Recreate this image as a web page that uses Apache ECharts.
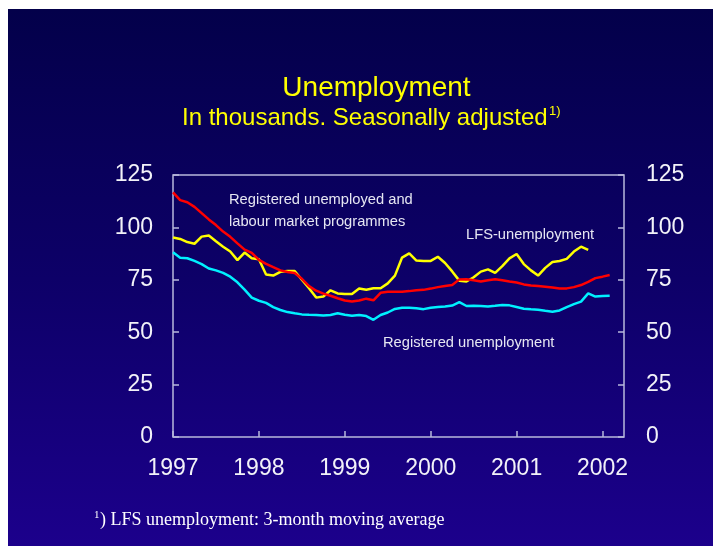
<!DOCTYPE html>
<html>
<head>
<meta charset="utf-8">
<script src="https://cdn.jsdelivr.net/npm/echarts@6/dist/echarts.min.js"></script>
<style>
  html, body { margin: 0; padding: 0; background: #ffffff; }
  #chart { width: 719px; height: 546px; }
</style>
</head>
<body>
<div id="chart"></div>
<script>
// Monthly observations, January 1997 onwards (thousands, seasonally adjusted)
var yearLabels = ['1997', '1998', '1999', '2000', '2001', '2002'];
var yTicks = [0, 25, 50, 75, 100, 125];

// Registered unemployed and labour market programmes
var registeredPlusProgrammes = [
  116.7, 113.0, 112.0, 109.8, 106.8, 103.8, 101.1, 98.0, 95.5, 92.4, 89.4, 87.8,
  84.5, 82.6, 81.0, 79.5, 78.7, 78.2, 75.5, 72.0, 69.8, 68.4, 67.4, 66.2,
  65.1, 64.7, 65.1, 66.0, 65.2, 68.8, 69.3, 69.3, 69.3, 69.6, 70.0, 70.2,
  70.8, 71.5, 72.0, 72.5, 75.2, 75.3, 74.8, 74.2, 74.8, 75.3, 74.8, 74.2,
  73.7, 72.8, 72.3, 72.0, 71.7, 71.3, 70.8, 70.9, 71.5, 72.5, 74.0, 75.8,
  76.5, 77.3
];

// LFS unemployment, 3-month moving average
var lfsUnemployment = [
  95.2, 94.5, 93.0, 92.2, 95.6, 96.1, 93.4, 90.8, 88.5, 84.4, 88.0, 85.3,
  84.8, 77.5, 77.0, 78.8, 79.2, 79.2, 75.0, 71.0, 66.5, 67.0, 70.0, 68.5,
  68.2, 68.2, 70.8, 70.3, 71.0, 71.0, 73.3, 77.0, 85.6, 87.6, 84.2, 84.0,
  84.0, 86.0, 83.0, 79.0, 74.6, 74.2, 76.2, 78.9, 80.0, 78.3, 81.5, 85.2,
  87.3, 82.5, 79.5, 77.0, 80.7, 83.5, 84.0, 85.0, 88.5, 90.8, 89.3
];

// Registered unemployment
var registeredUnemployment = [
  88.1, 85.5, 85.3, 84.0, 82.5, 80.4, 79.5, 78.3, 76.5, 73.8, 70.3, 66.5,
  65.0, 64.0, 62.0, 60.6, 59.6, 59.0, 58.5, 58.3, 58.2, 58.0, 58.2, 59.0,
  58.3, 57.8, 58.2, 57.7, 55.9, 58.2, 59.4, 61.1, 61.7, 61.7, 61.4, 61.0,
  61.7, 62.0, 62.3, 62.7, 64.3, 62.5, 62.6, 62.5, 62.3, 62.6, 63.0, 62.8,
  62.0, 61.2, 60.9, 60.7, 60.2, 59.8, 60.4, 62.0, 63.4, 64.6, 68.5, 67.0,
  67.3, 67.4
];

function toPairs(values) {
  return values.map(function (v, i) { return [i, v]; });
}

var frameColor = '#b8b8dc';
var labelColor = '#f2f2f8';
var sans = 'Liberation Sans, Arial, sans-serif';
var serif = 'Liberation Serif, Times New Roman, serif';

var chart = echarts.init(document.getElementById('chart'), null, { renderer: 'canvas' });

var option = {
  backgroundColor: '#ffffff',
  animation: false,
  grid: {
    left: 173, top: 175, right: 95, bottom: 109,
    show: true,
    borderColor: frameColor,
    borderWidth: 1.5,
    backgroundColor: 'transparent'
  },
  xAxis: {
    type: 'value',
    min: 0,
    max: 63,
    interval: 12,
    axisLine: { show: false },
    splitLine: { show: false },
    axisTick: { show: true, inside: true, length: 6, lineStyle: { color: frameColor, width: 1.5 } },
    axisLabel: {
      color: labelColor,
      fontFamily: sans,
      fontSize: 23,
      margin: 20,
      showMaxLabel: false,
      formatter: function (v) {
        if (v % 12 !== 0) return '';
        return yearLabels[v / 12] || '';
      }
    }
  },
  yAxis: [
    {
      type: 'value', position: 'left', min: yTicks[0], max: yTicks[yTicks.length - 1], interval: 25,
      axisLine: { show: false },
      splitLine: { show: false },
      axisTick: { show: true, inside: true, length: 6, lineStyle: { color: frameColor, width: 1.5 } },
      axisLabel: { color: labelColor, fontFamily: sans, fontSize: 23, margin: 20 }
    },
    {
      type: 'value', position: 'right', min: yTicks[0], max: yTicks[yTicks.length - 1], interval: 25,
      axisLine: { show: false },
      splitLine: { show: false },
      axisTick: { show: true, inside: true, length: 6, lineStyle: { color: frameColor, width: 1.5 } },
      axisLabel: { color: labelColor, fontFamily: sans, fontSize: 23, margin: 22 }
    }
  ],
  series: [
    {
      name: 'LFS-unemployment', type: 'line', data: toPairs(lfsUnemployment),
      showSymbol: false, symbol: 'none',
      lineStyle: { color: '#ffff00', width: 2.5 }, z: 3
    },
    {
      name: 'Registered unemployed and labour market programmes', type: 'line',
      data: toPairs(registeredPlusProgrammes),
      showSymbol: false, symbol: 'none',
      lineStyle: { color: '#ff0000', width: 2.5 }, z: 4
    },
    {
      name: 'Registered unemployment', type: 'line', data: toPairs(registeredUnemployment),
      showSymbol: false, symbol: 'none',
      lineStyle: { color: '#00f0ff', width: 2.5 }, z: 5
    }
  ],
  graphic: [
    {
      type: 'rect', z: -10, silent: true,
      shape: { x: 8, y: 9, width: 705, height: 540 },
      style: {
        fill: new echarts.graphic.LinearGradient(0, 0, 0, 1, [
          { offset: 0, color: '#03004a' },
          { offset: 0.5, color: '#0d0068' },
          { offset: 1, color: '#1c008c' }
        ])
      }
    },
    {
      type: 'text', x: 376.5, y: 88, z: 10,
      style: { text: 'Unemployment', fill: '#ffff00', font: '28px ' + sans, textAlign: 'center', textVerticalAlign: 'middle' }
    },
    {
      type: 'text', x: 182, y: 118.5, z: 10,
      style: { text: 'In thousands. Seasonally adjusted', fill: '#ffff00', font: '24px ' + sans, textAlign: 'left', textVerticalAlign: 'middle' }
    },
    {
      type: 'text', x: 549, y: 111, z: 10,
      style: { text: '1)', fill: '#ffff00', font: '13px ' + sans, textAlign: 'left', textVerticalAlign: 'middle' }
    },
    {
      type: 'text', x: 229, y: 199.5, z: 10,
      style: { text: 'Registered unemployed and', fill: '#e6e6f2', font: '14.7px ' + sans, textAlign: 'left', textVerticalAlign: 'middle' }
    },
    {
      type: 'text', x: 229, y: 222, z: 10,
      style: { text: 'labour market programmes', fill: '#e6e6f2', font: '14.7px ' + sans, textAlign: 'left', textVerticalAlign: 'middle' }
    },
    {
      type: 'text', x: 466, y: 234.5, z: 10,
      style: { text: 'LFS-unemployment', fill: '#e6e6f2', font: '14.7px ' + sans, textAlign: 'left', textVerticalAlign: 'middle' }
    },
    {
      type: 'text', x: 383, y: 342.5, z: 10,
      style: { text: 'Registered unemployment', fill: '#e6e6f2', font: '14.7px ' + sans, textAlign: 'left', textVerticalAlign: 'middle' }
    },
    {
      type: 'text', x: 94, y: 515, z: 10,
      style: { text: '1', fill: '#ffffff', font: '11px ' + serif, textAlign: 'left', textVerticalAlign: 'middle' }
    },
    {
      type: 'text', x: 100, y: 520.5, z: 10,
      style: { text: ') LFS unemployment: 3-month moving average', fill: '#ffffff', font: '18px ' + serif, textAlign: 'left', textVerticalAlign: 'middle' }
    }
  ]
};

chart.setOption(option);
</script>
</body>
</html>
